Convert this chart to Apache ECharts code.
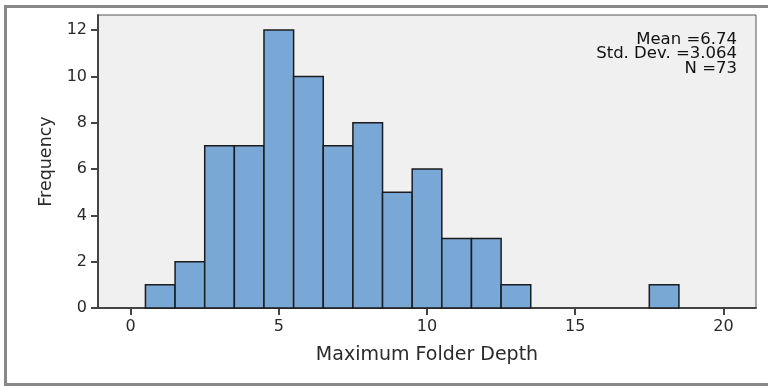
<!DOCTYPE html>
<html>
<head>
<meta charset="utf-8">
<script src="https://cdn.jsdelivr.net/npm/echarts@6/dist/echarts.min.js"></script>
<style>
  html, body { margin: 0; padding: 0; background: #fff; }
  #chart { width: 768px; height: 386px; }
</style>
</head>
<body>
<div id="chart"></div>
<script>
// histogram bins (centre of each bin, width 1) and counts
const depths = [1, 2, 3, 4, 5, 6, 7, 8, 9, 10, 11, 12, 13, 14, 15, 16, 17, 18]
const counts = [1, 2, 7, 7, 12, 10, 7, 8, 5, 6, 3, 3, 1, 0, 0, 0, 0, 1]
const xTicks = [0, 5, 10, 15, 20]
const yTicks = [0, 2, 4, 6, 8, 10, 12]
const stats = ['Mean =6.74', 'Std. Dev. =3.064', 'N =73']

let binData = []
depths.forEach((d, i) => {
  if (counts[i] > 0) binData.push([d - 0.5, d + 0.5, counts[i]])
})

let myChart = echarts.init(document.getElementById('chart'))
let option = {
  animation: false,
  backgroundColor: '#fff',
  grid: {
    left: 98,
    right: 12,
    top: 15,
    bottom: 78,
    show: true,
    backgroundColor: '#f0f0f0',
    borderColor: '#555',
    borderWidth: 1,
  },
  xAxis: {
    type: 'value',
    min: -1.1,
    max: 21.1,
    name: 'Maximum Folder Depth',
    nameLocation: 'middle',
    nameGap: 38,
    nameTextStyle: { fontFamily: 'DejaVu Sans', fontSize: 19, color: '#2a2a2a' },
    splitLine: { show: false },
    axisLine: { onZero: false, lineStyle: { color: '#444', width: 2 } },
    axisTick: { customValues: xTicks, length: 7, lineStyle: { color: '#444', width: 2 } },
    axisLabel: {
      customValues: xTicks,
      margin: 11,
      fontFamily: 'DejaVu Sans',
      fontSize: 16,
      color: '#2a2a2a',
    },
  },
  yAxis: {
    type: 'value',
    min: 0,
    max: 12.65,
    name: 'Frequency',
    nameLocation: 'middle',
    nameGap: 36,
    nameTextStyle: { fontFamily: 'DejaVu Sans', fontSize: 17.5, color: '#2a2a2a' },
    splitLine: { show: false },
    axisLine: { show: true, onZero: false, lineStyle: { color: '#444', width: 2 } },
    axisTick: { show: true, customValues: yTicks, length: 7, lineStyle: { color: '#444', width: 2 } },
    axisLabel: {
      customValues: yTicks,
      margin: 11,
      fontFamily: 'DejaVu Sans',
      fontSize: 16,
      color: '#2a2a2a',
    },
  },
  series: [
    {
      type: 'custom',
      data: binData,
      renderItem: (params, api) => {
        let p0 = api.coord([api.value(0), api.value(2)])
        let p1 = api.coord([api.value(1), 0])
        return {
          type: 'rect',
          shape: { x: p0[0], y: p0[1], width: p1[0] - p0[0], height: p1[1] - p0[1] },
          style: { fill: '#79a7d6', stroke: '#1c1c1c', lineWidth: 1.5 },
        }
      },
    },
  ],
  graphic: [
    {
      type: 'rect',
      shape: { x: 5.5, y: 6.5, width: 800, height: 378 },
      style: { fill: 'transparent', stroke: '#888', lineWidth: 3 },
      z: -1,
    },
    {
      type: 'text',
      x: 737,
      y: 32,
      style: {
        text: stats.join('\n'),
        align: 'right',
        verticalAlign: 'top',
        fontFamily: 'DejaVu Sans',
        fontSize: 16.5,
        lineHeight: 14.5,
        fill: '#111',
      },
    },
  ],
}
myChart.setOption(option, true)
</script>
</body>
</html>
